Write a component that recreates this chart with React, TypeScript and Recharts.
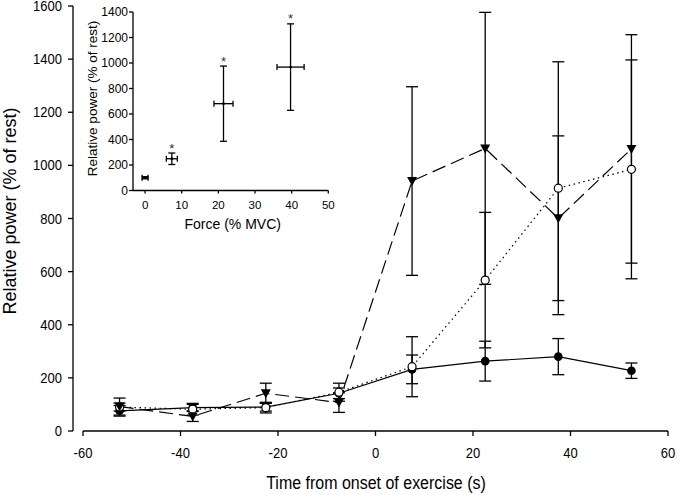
import React from 'react';
import {
  ErrorBar,
  Line,
  LineChart,
  ReferenceLine,
  Scatter,
  ScatterChart,
  XAxis,
  YAxis,
} from 'recharts';

// main panel: relative power vs time from exercise onset
const times = [-52.5, -37.5, -22.5, -7.5, 7.5, 22.5, 37.5, 52.5];
const solidPower = [76, 88, 90, 142, 232, 263, 280, 227];
const solidErr = [20, 12, 15, 20, 54, 75, 68, 29];
const dottedPower = [90, 82, 88, 146, 242, 568, 914, 985];
const dottedErr = [15, 22, 20, 34, 113, 255, 476, 412];
const dashedPower = [92, 55, 142, 107, 941, 1064, 801, 1062];
const dashedErr = [32, 19, 38, 37, 355, 512, 310, 430];

const timeTicks = [-60, -40, -20, 0, 20, 40, 60];
const powerTicks = [0, 200, 400, 600, 800, 1000, 1200, 1400, 1600];

// inset: relative power vs force
const force = [0, 7.3, 21.4, 39.7];
const forceErr = [0.8, 1.5, 2.6, 3.7];
const forcePower = [100, 249, 681, 968];
const forcePowerErr = [8, 45, 295, 339];
const starForce = [7.3, 21.4, 39.7];
const starPower = [348, 1028, 1366];
const forceTicks = [0, 10, 20, 30, 40, 50];
const insetPowerTicks = [0, 200, 400, 600, 800, 1000, 1200, 1400];

const FONT = '"Liberation Sans", Arial, sans-serif';
const INK = '#000';

const mainData = times.map((t, i) => ({
  t,
  solid: solidPower[i],
  solidErr: solidErr[i],
  dotted: dottedPower[i],
  dottedErr: dottedErr[i],
  dashed: dashedPower[i],
  dashedErr: dashedErr[i],
}));

const insetData = force.map((x, i) => ({
  x,
  y: forcePower[i],
  xErr: forceErr[i],
  yErr: forcePowerErr[i],
}));

const starData = starForce.map((x, i) => ({ x, y: starPower[i] }));

const FilledDot = (p: any) =>
  p.cx == null ? null : <circle key={p.index} cx={p.cx} cy={p.cy} r={4.3} fill={INK} />;

const OpenDot = (p: any) =>
  p.cx == null ? null : (
    <circle key={p.index} cx={p.cx} cy={p.cy} r={4} fill="#fff" stroke={INK} strokeWidth={1.2} />
  );

const TriangleDot = (p: any) =>
  p.cx == null ? null : (
    <path
      key={p.index}
      d={`M${p.cx - 5},${p.cy - 4} L${p.cx + 5},${p.cy - 4} L${p.cx},${p.cy + 5} Z`}
      fill={INK}
    />
  );

const SmallDot = (p: any) => <circle cx={p.cx} cy={p.cy} r={1.4} fill={INK} />;

const Star = (p: any) => (
  <text x={p.cx} y={p.cy + 7} textAnchor="middle" fontSize={13} fontFamily={FONT} fill="#333">
    *
  </text>
);

// the source figure is a little stretched vertically, so stretch tick text too
const StretchTick = ({ x, y, payload, textAnchor, fontSize, dy }: any) => (
  <g transform={`translate(${x},${y}) scale(1,1.1)`}>
    <text x={0} y={0} dy={dy} textAnchor={textAnchor} fontSize={fontSize} fontFamily={FONT} fill={INK}>
      {payload.value}
    </text>
  </g>
);

const axisLine = { stroke: INK, strokeWidth: 1.3 };

export default function App() {
  return (
    <div style={{ position: 'absolute', left: 0, top: 0, width: 680, height: 495, background: '#fff' }}>
      <div style={{ position: 'absolute', left: 0, top: 0 }}>
        <LineChart width={680} height={495} data={mainData} margin={{ top: 6, right: 12, left: 13, bottom: 34 }}>
          <XAxis
            type="number"
            dataKey="t"
            domain={[-62.05, 60]}
            allowDataOverflow
            ticks={timeTicks}
            interval={0}
            height={30}
            axisLine={false}
            tickLine={axisLine}
            tickSize={5}
            tickMargin={12}
            fontSize={13}
            tick={(p: any) => <StretchTick {...p} dy="0.71em" fontSize={13} />}
          />
          <YAxis
            type="number"
            domain={[0, 1600]}
            allowDataOverflow
            ticks={powerTicks}
            interval={0}
            width={60}
            axisLine={axisLine}
            tickLine={axisLine}
            tickSize={5}
            tickMargin={6}
            fontSize={13}
            tick={(p: any) => <StretchTick {...p} dy="0.355em" fontSize={13} />}
          />
          <ReferenceLine
            segment={[
              { x: -60, y: 0 },
              { x: 60, y: 0 },
            ]}
            stroke={INK}
            strokeWidth={1.3}
          />
          <Line
            dataKey="solid"
            stroke={INK}
            strokeWidth={1.2}
            dot={FilledDot}
            activeDot={false}
            isAnimationActive={false}
          >
            <ErrorBar dataKey="solidErr" direction="y" width={6} stroke={INK} strokeWidth={1.3} />
          </Line>
          <Line
            dataKey="dotted"
            stroke={INK}
            strokeWidth={1.2}
            strokeDasharray="1.5 3.5"
            dot={OpenDot}
            activeDot={false}
            isAnimationActive={false}
          >
            <ErrorBar dataKey="dottedErr" direction="y" width={6} stroke={INK} strokeWidth={1.3} />
          </Line>
          <Line
            dataKey="dashed"
            stroke={INK}
            strokeWidth={1.2}
            strokeDasharray="14 6"
            dot={TriangleDot}
            activeDot={false}
            isAnimationActive={false}
          >
            <ErrorBar dataKey="dashedErr" direction="y" width={6} stroke={INK} strokeWidth={1.3} />
          </Line>
        </LineChart>
      </div>

      <div style={{ position: 'absolute', left: 0, top: 0 }}>
        <ScatterChart width={340} height={215} margin={{ top: 12, right: 11.7, left: 73, bottom: 4.5 }}>
          <XAxis
            type="number"
            dataKey="x"
            domain={[-3.3, 50]}
            allowDataOverflow
            ticks={forceTicks}
            interval={0}
            height={20}
            axisLine={axisLine}
            tickLine={axisLine}
            tickSize={3}
            tickMargin={7}
            tick={{ fill: INK, fontSize: 11.5, fontFamily: FONT }}
          />
          <YAxis
            type="number"
            dataKey="y"
            domain={[0, 1400]}
            allowDataOverflow
            ticks={insetPowerTicks}
            interval={0}
            width={60}
            axisLine={axisLine}
            tickLine={axisLine}
            tickSize={4}
            tickMargin={1}
            tick={{ fill: INK, fontSize: 12, fontFamily: FONT }}
          />
          <Scatter data={insetData} shape={SmallDot} isAnimationActive={false}>
            <ErrorBar dataKey="xErr" direction="x" width={3} stroke={INK} strokeWidth={1.3} />
            <ErrorBar dataKey="yErr" direction="y" width={3.5} stroke={INK} strokeWidth={1.3} />
          </Scatter>
          <Scatter data={starData} shape={Star} isAnimationActive={false} />
        </ScatterChart>
      </div>

      <svg
        width={680}
        height={495}
        style={{ position: 'absolute', left: 0, top: 0, pointerEvents: 'none' }}
        fontFamily={FONT}
        fill={INK}
      >
        <text transform="translate(16,211) rotate(-90)" textAnchor="middle" fontSize={18}>
          Relative power (% of rest)
        </text>
        <text transform="translate(376,488.5) scale(1,1.12)" textAnchor="middle" fontSize={16}>
          Time from onset of exercise (s)
        </text>
        <text transform="translate(96.7,98.5) rotate(-90)" textAnchor="middle" fontSize={13.5}>
          Relative power (% of rest)
        </text>
        <text x={232.7} y={229} textAnchor="middle" fontSize={14}>
          Force (% MVC)
        </text>
      </svg>
    </div>
  );
}
